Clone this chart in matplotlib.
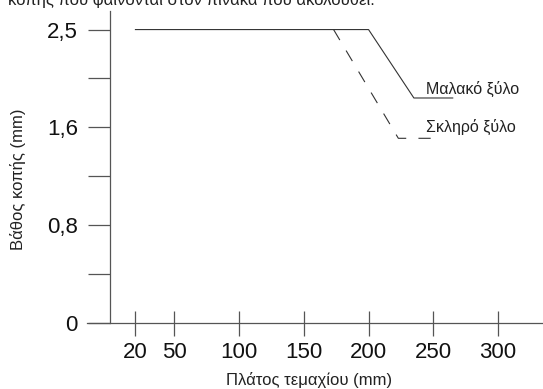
import numpy as np
import matplotlib
matplotlib.use("Agg")
import matplotlib.pyplot as plt

# ---- data ----
x_ticks = [20, 50, 100, 150, 200, 250, 300]
y_tick_vals = [0, 0.8, 1.6, 2.5]
y_tick_labels = ["0", "0,8", "1,6", "2,5"]
y_minor_vals = [0.4, 1.2, 2.05]

soft_x = [20, 200, 235, 265]
soft_y = [2.5, 2.5, 1.87, 1.87]
hard_x = [173, 223, 257]
hard_y = [2.5, 1.51, 1.51]

soft_label = "Μαλακό ξύλο"
hard_label = "Σκληρό ξύλο"
label_x = 244
x_label = "Πλάτος τεμαχίου (mm)"
y_label = "Βάθος κοπής (mm)"
top_text = "κοπής που φαίνονται στον πίνακα που ακολουθεί."

plt.rcParams['font.family'] = ['Liberation Sans', 'DejaVu Sans']

# piecewise scale: tick values evenly spaced
knots_v = np.array([-0.8, 0, 0.8, 1.6, 2.5, 3.4])
knots_p = np.array([-1, 0, 1, 2, 3, 4], dtype=float)

def fwd(v):
    return np.interp(v, knots_v, knots_p)

def inv(p):
    return np.interp(p, knots_p, knots_v)

W, H = 543, 389
fig = plt.figure(figsize=(W / 100, H / 100), dpi=100)
left_px, right_px, top_px, bottom_px = 87, 543, 11, 357
ax = fig.add_axes([left_px / W, (H - bottom_px) / H,
                   (right_px - left_px) / W, (bottom_px - top_px) / H])
ax.set_yscale('function', functions=(fwd, inv))

line_c = '#333333'
axis_c = '#555555'

ax.plot(soft_x, soft_y, color=line_c, lw=0.8, solid_joinstyle='miter')
ax.plot(hard_x, hard_y, color=line_c, lw=0.8, linestyle=(0, (11, 11)))

ax.set_xlim(-17.4, 334.7)
ax.set_ylim(inv(-0.35), inv(3.19))

for s in ['top', 'right']:
    ax.spines[s].set_visible(False)
ax.spines['left'].set_position(('data', 0))
ax.spines['bottom'].set_position(('data', 0))
ax.spines['left'].set_bounds(0, inv(3.19))
for s in ['left', 'bottom']:
    ax.spines[s].set_color(axis_c)
    ax.spines[s].set_linewidth(0.9)

ax.set_xticks(x_ticks)
ax.set_xticklabels([str(t) for t in x_ticks])
ax.set_yticks(y_tick_vals)
ax.set_yticklabels(y_tick_labels)
ax.set_yticks(y_minor_vals, minor=True)
ax.set_xticks([], minor=True)

ax.tick_params(axis='x', direction='inout', length=18, width=0.9, color=axis_c,
               labelsize=16, pad=5, labelcolor='#111111')
ax.tick_params(axis='y', which='both', direction='out', length=15.8, width=0.9,
               color=axis_c, labelsize=16, pad=7, labelcolor='#111111')

fig.text(309 / W, 1 - 380 / H, x_label, ha='center', va='center', fontsize=12, color='#222222')
fig.text(18 / W, 1 - 179 / H, y_label, ha='center', va='center', rotation=90,
         fontsize=12, color='#222222')
fig.text(8 / W, 1 - 5 / H, top_text, ha='left', va='baseline', fontsize=12, color='#222222')

ax.annotate(soft_label, (label_x, soft_y[-1]), xytext=(0, 0.5), textcoords='offset points',
            ha='left', va='bottom', fontsize=11.5, color='#222222')
ax.annotate(hard_label, (label_x, hard_y[-1]), xytext=(0, 2.5), textcoords='offset points',
            ha='left', va='bottom', fontsize=11.5, color='#222222')

fig.savefig('out.png', dpi=100)
